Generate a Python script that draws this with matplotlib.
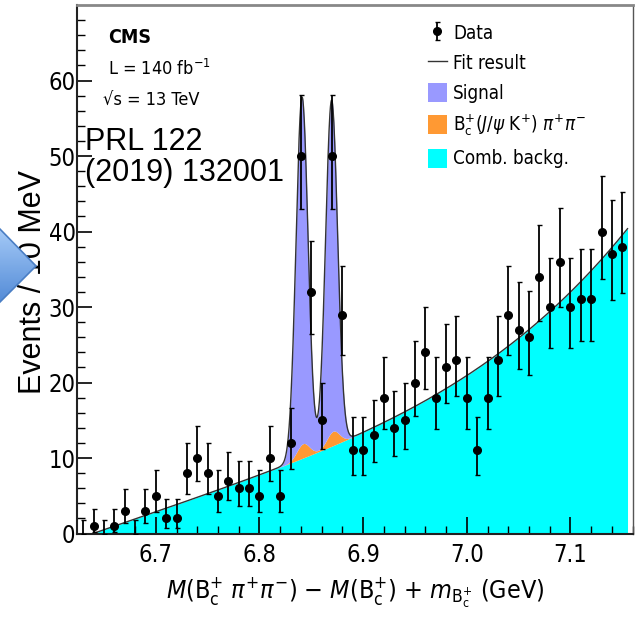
import math
import numpy as np
import matplotlib
matplotlib.use('Agg')
import matplotlib.pyplot as plt
from matplotlib.patches import Patch, Polygon
from matplotlib.lines import Line2D

# condensed sans for the CMS figure, Arial-like for the slide overlay
plt.rcParams['font.family'] = ['DejaVu Sans']
plt.rcParams['font.stretch'] = 'condensed'
plt.rcParams['mathtext.fontset'] = 'custom'
plt.rcParams['mathtext.rm'] = 'DejaVu Sans:stretch=condensed'
plt.rcParams['mathtext.it'] = 'DejaVu Sans:style=italic:stretch=condensed'
plt.rcParams['mathtext.bf'] = 'DejaVu Sans:weight=bold:stretch=condensed'

# data: events per 10 MeV bin
bin_centers = [6.63, 6.64, 6.65, 6.66, 6.67, 6.68, 6.69, 6.70, 6.71, 6.72,
               6.73, 6.74, 6.75, 6.76, 6.77, 6.78, 6.79, 6.80, 6.81, 6.82,
               6.83, 6.84, 6.85, 6.86, 6.87, 6.88, 6.89, 6.90, 6.91, 6.92,
               6.93, 6.94, 6.95, 6.96, 6.97, 6.98, 6.99, 7.00, 7.01, 7.02,
               7.03, 7.04, 7.05, 7.06, 7.07, 7.08, 7.09, 7.10, 7.11, 7.12,
               7.13, 7.14, 7.15]
counts = [0, 1, 0, 1, 3, 0, 3, 5, 2, 2,
          8, 10, 8, 5, 7, 6, 6, 5, 10, 5,
          12, 50, 32, 15, 50, 29, 11, 11, 13, 18,
          14, 15, 20, 24, 18, 22, 23, 18, 11, 18,
          23, 29, 27, 26, 34, 30, 36, 30, 31, 31,
          40, 37, 38]

# fit result
bkg_threshold = 6.6395
bkg_lin = 47.5
bkg_quart = 225.0
signal_mean = [6.841, 6.8695]
signal_amp = [46.0, 44.0]
signal_sigma = [0.0058, 0.0058]
refl_mean = [6.842, 6.871]
refl_amp = [1.9, 1.9]
refl_sigma = [0.006, 0.006]

x_ticks = [6.7, 6.8, 6.9, 7.0, 7.1]
x_ticklabels = ['6.7', '6.8', '6.9', '7.0', '7.1']
y_ticks = [0, 10, 20, 30, 40, 50, 60]
y_ticklabels = ['0', '10', '20', '30', '40', '50', '60']

legend_labels = ['Data', 'Fit result', 'Signal',
                 r'B$_{\rm c}^{+}$($J/\psi$ K$^{+}$) $\pi^{+}\pi^{-}$',
                 'Comb. backg.']


def pois_cdf(k, mu):
    if k < 0:
        return 0.0
    term = math.exp(-mu)
    s = term
    for i in range(1, k + 1):
        term *= mu / i
        s += term
    return s


def solve_mu(k, target):
    # find mu with P(X<=k; mu) = target (cdf falls with mu)
    lo, hi = 0.0, 200.0
    for _ in range(80):
        mid = 0.5 * (lo + hi)
        if pois_cdf(k, mid) > target:
            lo = mid
        else:
            hi = mid
    return 0.5 * (lo + hi)


# Garwood 68% intervals, as ROOT draws them
alpha = 0.158655
err_lo = []
err_up = []
for n in counts:
    up = solve_mu(n, alpha)
    low = 0.0 if n == 0 else solve_mu(n - 1, 1 - alpha)
    err_lo.append(n - low)
    err_up.append(up - n)

bx = np.array(bin_centers)
cn = np.array(counts)
elo = np.array(err_lo)
eup = np.array(err_up)

fig = plt.figure(figsize=(6.38, 6.17), dpi=100)
ax = fig.add_axes([0.1207, 0.1353, 0.871, 0.8566])

xmin, xmax = 6.624, 7.155
xs = np.linspace(bkg_threshold, xmax, 3000)
d = xs - bkg_threshold
bkg = bkg_lin * d + bkg_quart * d ** 4
refl = np.zeros_like(xs)
for m, a, s in zip(refl_mean, refl_amp, refl_sigma):
    refl += a * np.exp(-0.5 * ((xs - m) / s) ** 2)
sig = np.zeros_like(xs)
for m, a, s in zip(signal_mean, signal_amp, signal_sigma):
    sig += a * np.exp(-0.5 * ((xs - m) / s) ** 2)
total = bkg + refl + sig

ax.fill_between(xs, 0, bkg, color='#00ffff', lw=0, zorder=1)
ax.fill_between(xs, bkg, bkg + refl, color='#ff9933', lw=0, zorder=1)
ax.fill_between(xs, bkg + refl, total, color='#9999ff', lw=0, zorder=1)
ax.plot(xs, total, color='#333333', lw=1, zorder=2)

nz = cn > 0
data_h = ax.errorbar(bx[nz], cn[nz], yerr=[elo[nz], eup[nz]], fmt='o', color='black',
                     ms=5.5, elinewidth=1.3, capsize=1.8, capthick=1, zorder=3)
ax.errorbar(bx[~nz], cn[~nz], yerr=[elo[~nz], eup[~nz]], fmt='none', ecolor='black',
            elinewidth=1.3, capsize=1.8, capthick=1, zorder=3)

ax.set_xlim(xmin, xmax)
ax.set_ylim(0, 70)
ax.set_xticks(x_ticks)
ax.set_xticklabels(x_ticklabels)
ax.set_yticks(y_ticks)
ax.set_yticklabels(y_ticklabels)
ax.set_xticks(np.arange(6.64, 7.16, 0.02), minor=True)
ax.set_yticks(np.arange(0, 70, 2), minor=True)
ax.tick_params(which='both', direction='in', top=False, right=False, labelsize=17)
ax.tick_params(axis='y', which='major', length=11, width=1.2, pad=1)
ax.tick_params(axis='y', which='minor', length=6, width=1.0)
ax.tick_params(axis='x', which='major', length=12, width=1.2, pad=7)
ax.tick_params(axis='x', which='minor', length=6, width=1.0)
for side in ['left', 'bottom']:
    ax.spines[side].set_linewidth(1.5)
    ax.spines[side].set_color('#222222')
ax.spines['top'].set_color('#888888')
ax.spines['top'].set_linewidth(2)
ax.spines['right'].set_color('#555555')
ax.spines['right'].set_linewidth(1)

ax.set_xlabel(r'$M$(B$_{\rm c}^{+}$ $\pi^{+}\pi^{-}$) $-$ $M$(B$_{\rm c}^{+}$) + $m_{\rm B_{c}^{+}}$ (GeV)',
              fontsize=18, labelpad=6)

handles = [data_h, Line2D([], [], color='#333333', lw=1),
           Patch(facecolor='#9999ff', edgecolor='none'),
           Patch(facecolor='#ff9933', edgecolor='none'),
           Patch(facecolor='#00ffff', edgecolor='none')]
ax.legend(handles, legend_labels, loc='upper left',
          bbox_to_anchor=(428 / 638, 1 - 23 / 617), bbox_transform=fig.transFigure,
          frameon=False, fontsize=13.5, handlelength=1.0, handleheight=1.18,
          handletextpad=0.35, labelspacing=0.54, borderpad=0, borderaxespad=0)

# CMS labels
fig.text(108 / 638, 1 - 43 / 617, 'CMS', fontsize=14, fontweight='bold', va='baseline')
fig.text(108 / 638, 1 - 75 / 617, r'L = 140 fb$^{-1}$', fontsize=13, va='baseline')
fig.text(103 / 638, 1 - 105 / 617, '\u221As = 13 TeV', fontsize=13, va='baseline')

# slide overlay text
fig.text(85 / 638, 1 - 150 / 617, 'PRL 122', fontsize=22, family='Liberation Sans',
         stretch='normal', va='baseline')
fig.text(85 / 638, 1 - 181.5 / 617, '(2019) 132001', fontsize=22, family='Liberation Sans',
         stretch='normal', va='baseline')
fig.text(33 / 638, 1 - 282 / 617, 'Events / 10 MeV', fontsize=22, family='Liberation Sans',
         stretch='normal', rotation=90, ha='center', va='center')

# blue arrow shape of the slide, sticking in from the left edge
over = fig.add_axes([0, 0, 1, 1], zorder=10)
over.axis('off')
arrow = Polygon([(-3, 226), (36, 266), (-3, 305)], closed=True,
                facecolor='none', edgecolor='#4a7ec4', lw=1.2)
over.add_patch(arrow)
grad = np.linspace(0, 1, 100).reshape(-1, 1)
cmap = matplotlib.colors.LinearSegmentedColormap.from_list('arr', ['#a8ccf8', '#5089d6'])
img = over.imshow(grad, cmap=cmap, extent=(-3, 37, 305, 226), aspect='auto')
img.set_clip_path(arrow)
over.set_xlim(0, 638)
over.set_ylim(617, 0)

fig.savefig('out.png', dpi=100)
